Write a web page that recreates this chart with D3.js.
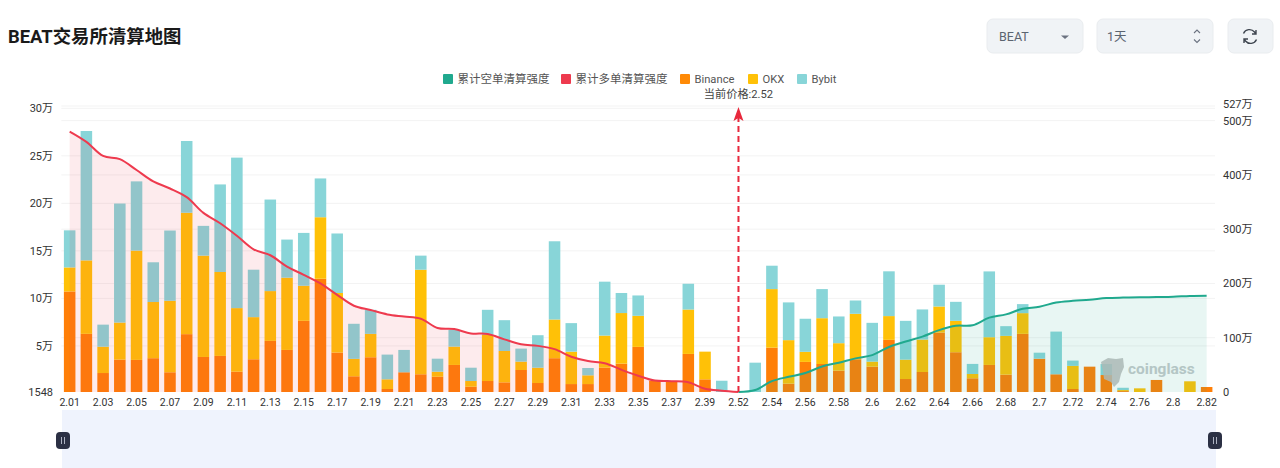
<!DOCTYPE html>
<html><head><meta charset="utf-8">
<script src="https://cdn.jsdelivr.net/npm/d3@7"></script>
<style>
html,body{margin:0;padding:0;background:#fff;overflow:hidden}
svg{display:block}
text{font-family:Roboto,"Noto Sans CJK SC",sans-serif}
</style></head><body>
<svg id="c" width="1280" height="468"></svg>
<script>
const categories=["2.01","2.02","2.03","2.04","2.05","2.06","2.07","2.08","2.09","2.10","2.11","2.12","2.13","2.14","2.15","2.16","2.17","2.18","2.19","2.20","2.21","2.22","2.23","2.24","2.25","2.26","2.27","2.28","2.29","2.30","2.31","2.32","2.33","2.34","2.35","2.36","2.37","2.38","2.39","2.40","2.52","2.53","2.54","2.55","2.56","2.57","2.58","2.59","2.6","2.61","2.62","2.63","2.64","2.65","2.66","2.67","2.68","2.69","2.7","2.71","2.72","2.73","2.74","2.75","2.76","2.77","2.8","2.81","2.82"];
// 单位:万
const binance=[10.73,6.27,2.15,3.56,3.53,3.71,2.23,6.24,3.84,3.95,2.29,3.6,5.53,4.58,7.64,12.07,4.3,1.81,3.81,.47,2.23,2.02,1.76,3,.71,1.31,1.17,2.47,1.1,3.71,.99,.99,2.71,3.14,4.9,1.34,1.24,4.16,1.49,0,0,0,4.82,1.03,3.32,3.1,2.4,3.6,2.82,5.64,1.52,2.26,6.41,4.34,1.6,3,1.98,6.27,3.66,2.02,.47,2.82,1.94,.25,0,1.42,0,0,.68];
const okx=[2.53,7.73,2.77,3.9,11.5,5.91,7.52,12.77,10.66,8.83,6.69,4.43,5.24,7.6,3.69,6.47,6.27,1.83,2.46,1.02,0,11,.53,1.93,.6,4.85,3.3,.88,1.61,4.07,3.41,.92,3.38,5.32,3.27,0,0,4.67,2.91,0,0,0,6.16,4.58,1.06,4.82,2.89,4.78,.53,2.5,2.04,3.41,2.74,3.3,.45,2.92,4.08,2.18,0,0,2.43,0,0,.11,.54,0,0,1.28,0];
const bybit=[3.9,13.61,2.32,12.52,7.28,4.18,7.39,7.55,3.13,9.21,15.83,4.99,9.63,4.01,5.56,4.08,6.26,3.69,2.53,2.6,2.35,1.48,1.37,1.76,1.4,2.64,3.24,1.37,3.42,8.23,3,.77,5.67,2.11,2.14,0,0,2.71,0,1.34,0,3.24,2.46,3.97,3.48,3.06,2.81,1.4,4.08,4.71,4.08,3.17,2.29,2,1.06,6.92,1.02,.95,.63,4.49,.56,0,1.16,.24,0,0,0,0,0];
const longLiq=[480,461,435,429,409,388,375,359,330,311,288,263,252,231,216,200,179,159,151,143,139,135,118,116,108,107,97,88,85,79,65,57,53,41,30,21,20,18,6,2.4,0];
const shortLiq=[0,3.7,20,28,35,47,54,62,68,83,93,102,114,122,123,137,143,153.5,157,165,168,170,173,174,174.5,175,175.6,177,177.5];
const leftTicks=[1548,50000,100000,150000,200000,250000,300000];
const rightTicks=[0,100,200,300,400,500,527];
const xTickLabels=categories.filter((d,i)=>i%2===0);
const legendNames=["累计空单清算强度","累计多单清算强度","Binance","OKX","Bybit"];
const currentPrice="2.52";

const svg=d3.select("#c");
const X0=61.3,X1=1215,YB=392,YT=106;
const x=d3.scaleBand().domain(categories).range([X0,X1]).paddingInner(.31).paddingOuter(.155);
const yL=d3.scaleLinear().domain([1548,302400]).range([YB,YT]).clamp(true);
const yR=d3.scaleLinear().domain([0,527]).range([YB,YT]);
const cx=d=>x(d)+x.bandwidth()/2;
const fmtL=v=>v<10000?String(v):(v/10000)+"万";
const fmtR=v=>v===0?"0":v+"万";

// zoom band
svg.append("rect").attr("x",62).attr("y",410).attr("width",1154).attr("height",58).attr("fill","#eff3fd");
[63,1215].forEach(h=>{
  svg.append("rect").attr("x",h-7).attr("y",432).attr("width",14).attr("height",17).attr("rx",4).attr("fill","#2b3044");
  [-1.5,1.5].forEach(o=>svg.append("line").attr("x1",h+o).attr("x2",h+o).attr("y1",437).attr("y2",444).attr("stroke","#aeb3c2").attr("stroke-width",1));
});

// grid
const grid=svg.append("g").attr("stroke","#f3f3f3").attr("stroke-width",1);
leftTicks.slice(1).forEach(t=>grid.append("line").attr("x1",X0).attr("x2",X1).attr("y1",yL(t)).attr("y2",yL(t)));
rightTicks.slice(1).forEach(t=>grid.append("line").attr("x1",X0).attr("x2",X1).attr("y1",yR(t)).attr("y2",yR(t)));

// bars
const rows=categories.map((c,i)=>({c,binance:binance[i]*1e4,okx:okx[i]*1e4,bybit:bybit[i]*1e4}));
const stack=d3.stack().keys(["binance","okx","bybit"])(rows);
const colors={binance:"#ff7f07",okx:"#ffc107",bybit:"#88d5d8"};
stack.forEach(s=>{
  svg.append("g").attr("fill",colors[s.key]).selectAll("rect").data(s.filter(d=>d[1]>d[0])).join("rect")
    .attr("x",d=>x(d.data.c)).attr("width",x.bandwidth())
    .attr("y",d=>yL(d[1])).attr("height",d=>yL(d[0])-yL(d[1]));
});

// watermark
const wm=svg.append("g");
wm.append("path").attr("d","M1101 362l7-4 8 1 7-1 1 9-3 7-2 8-5 5-3-5-7-3-1-8z").attr("fill","#bcbcbc").attr("opacity",.85);
wm.append("text").attr("x",1128).attr("y",374).attr("font-size",15.5).attr("font-weight",700).attr("fill","#c6cacc").attr("font-family","'Open Sans',sans-serif").text("coinglass");

// cumulative lines
const longCats=categories.slice(0,longLiq.length), shortCats=categories.slice(categories.length-shortLiq.length);
const series=[
 {cats:longCats,vals:longLiq,c:"#ee3a4e",a:"rgba(240,60,80,.10)"},
 {cats:shortCats,vals:shortLiq,c:"#20a98e",a:"rgba(30,170,140,.10)"}];
series.forEach(s=>{
  const pts=s.cats.map((c,i)=>[cx(c),s.vals[i]]);
  svg.append("path").attr("fill",s.a)
    .attr("d",d3.area().x(d=>d[0]).y0(yR(0)).y1(d=>yR(d[1])).curve(d3.curveCatmullRom.alpha(.5))(pts));
  svg.append("path").attr("fill","none").attr("stroke",s.c).attr("stroke-width",2)
    .attr("d",d3.line().x(d=>d[0]).y(d=>yR(d[1])).curve(d3.curveCatmullRom.alpha(.5))(pts));
});

// axes
function styleAxis(g,anchor,size){
  g.select(".domain").remove();
  g.selectAll("line").remove();
  g.selectAll("text").attr("fill","#333").attr("font-size",size).attr("text-anchor",anchor);
}
svg.append("g").attr("transform",`translate(0,${YB})`)
  .call(d3.axisBottom(x).tickValues(xTickLabels).tickSize(0).tickPadding(7))
  .call(g=>styleAxis(g,"middle",10.5));
svg.append("g").attr("transform",`translate(53,0)`)
  .call(d3.axisLeft(yL).tickValues(leftTicks).tickFormat(fmtL).tickSize(0).tickPadding(0))
  .call(g=>styleAxis(g,"end",11));
svg.append("g").attr("transform",`translate(1223,0)`)
  .call(d3.axisRight(yR).tickValues(rightTicks).tickFormat(fmtR).tickSize(0).tickPadding(0))
  .call(g=>styleAxis(g,"start",11))
  .call(g=>g.selectAll("text").filter(d=>d===527).attr("dy","0.1em"));

// current price marker
const px=cx(currentPrice);
svg.append("line").attr("x1",px).attr("x2",px).attr("y1",YB).attr("y2",118).attr("stroke","#e8283c").attr("stroke-width",2).attr("stroke-dasharray","6 4");
svg.append("path").attr("d",`M${px} 107L${px+5} 121L${px} 118L${px-5} 121Z`).attr("fill","#e8283c");
svg.append("text").attr("x",px).attr("y",98).attr("text-anchor","middle").attr("font-size",11.2).attr("fill","#444").text("当前价格:"+currentPrice);

// legend
const legendX=[443,561,680,748,797], legendC=["#20a98e","#ee3a4e","#ff8a07","#ffc107","#88d5d8"];
legendNames.forEach((n,i)=>{
  svg.append("rect").attr("x",legendX[i]).attr("y",74).attr("width",10).attr("height",10).attr("rx",1).attr("fill",legendC[i]);
  svg.append("text").attr("x",legendX[i]+14.5).attr("y",83).attr("font-size",i<2?11.5:11.2).attr("fill","#555").text(n);
});

// header
svg.append("text").attr("x",8).attr("y",43).attr("font-size",18.4).attr("font-weight",700).attr("fill","#1a1a1a").attr("font-family","'Noto Sans CJK SC',sans-serif").text("BEAT交易所清算地图");
const box=(bx,w)=>svg.append("rect").attr("x",bx).attr("y",19).attr("width",w).attr("height",34).attr("rx",6).attr("fill","#f0f3f6").attr("stroke","#e9ecef");
box(987,96);box(1097,116);box(1228,45);
svg.append("text").attr("x",999).attr("y",41).attr("font-size",12.5).attr("fill","#5b6470").text("BEAT");
svg.append("path").attr("d","M1061 35.5h8l-4 3.5z").attr("fill","#6b7280");
svg.append("text").attr("x",1107).attr("y",41).attr("font-size",12.5).attr("fill","#5b6470").text("1天");
svg.append("path").attr("d","M1194 33l3-3 3 3M1194 39.500l3 3 3-3").attr("fill","none").attr("stroke","#6b7280").attr("stroke-width",1.1);
svg.append("path").attr("d","M1243.500 33.500a6.500 6.500 0 0 1 11-1.500l1.500 2M1256 30v4h-4M1256.500 39.500a6.500 6.500 0 0 1-11 1.500l-1.500-2M1244 43v-4h4").attr("fill","none").attr("stroke","#3f4650").attr("stroke-width",1.4);
</script>
</body></html>
